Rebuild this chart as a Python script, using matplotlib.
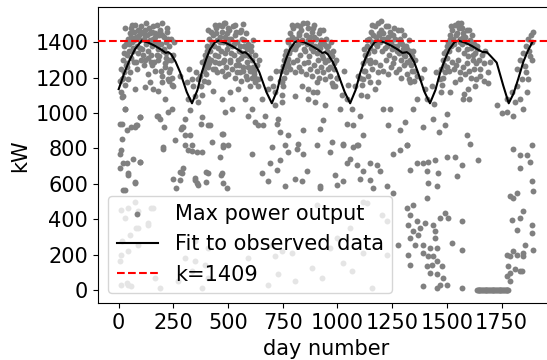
import matplotlib
matplotlib.use('Agg')
import matplotlib.pyplot as plt

# ---------------- fitted curve (day, kW) ----------------
fit_days = [0, 25, 50, 75, 105, 135, 165, 195, 215, 227, 240, 260, 281, 311, 335,
            360, 380, 400, 418, 440, 456, 486, 516, 546, 566, 578, 591, 618, 643, 675,
            700, 725, 745, 765, 783, 805, 821, 851, 881, 911, 931, 943, 956, 978, 1000,
            1033, 1058, 1083, 1105, 1127, 1147, 1170, 1187, 1217, 1247, 1277, 1297, 1317,
            1330, 1350, 1368, 1398, 1423, 1448, 1470, 1492, 1512, 1535, 1553, 1583, 1613,
            1643, 1663, 1683, 1698, 1728, 1758, 1783, 1805, 1827, 1850, 1870, 1890]
fit_kw = [1135, 1225, 1300, 1362, 1409, 1398, 1380, 1358, 1340, 1344, 1332, 1290, 1230, 1119, 1055,
          1130, 1230, 1305, 1361, 1400, 1409, 1398, 1380, 1358, 1340, 1344, 1332, 1290, 1230, 1119,
          1055, 1130, 1230, 1305, 1361, 1400, 1409, 1398, 1380, 1358, 1340, 1344, 1332, 1290, 1230,
          1119, 1055, 1130, 1230, 1305, 1361, 1400, 1409, 1398, 1380, 1358, 1340, 1344,
          1332, 1290, 1230, 1119, 1055, 1130, 1230, 1305, 1361, 1400, 1409, 1398, 1380,
          1358, 1345, 1344, 1325, 1285, 1155, 1055, 1110, 1195, 1290, 1350, 1398]

k_value = 1409

# ---------------- observed daily maxima: summer bands ----------------
c1_days = [5, 10, 14, 18, 22, 26, 30, 34, 38, 42, 46, 50, 54, 58, 62, 66, 70, 74, 78, 82,
           86, 90, 94, 98, 102, 106, 110, 114, 118, 122, 126, 130, 134, 138, 142, 146, 150, 154, 158, 162,
           166, 170, 174, 178, 182, 186, 190, 194, 198, 202, 206, 210, 214, 218, 222, 226, 230, 234, 238, 242,
           246, 250,
           24, 32, 40, 48, 56, 64, 72, 80, 88, 96, 104, 112, 120, 128, 136, 144, 152, 160, 168, 176,
           184, 192, 200, 208, 216, 224, 232, 240,
           12, 20, 36, 52, 68, 84, 100, 116, 132, 148, 164, 180, 196, 212, 228, 244,
           28, 60, 92, 124, 156, 188, 220, 252]
c1_kw = [1180, 1250, 1090, 1300, 1230, 1340, 1160, 1390, 1280, 1420, 1350, 1450, 1310, 1480, 1400, 1370, 1460, 1500, 1430, 1380,
         1470, 1340, 1440, 1410, 1490, 1360, 1450, 1420, 1300, 1470, 1390, 1440, 1350, 1480, 1410, 1330, 1460, 1380, 1420, 1290,
         1450, 1400, 1500, 1360, 1440, 1320, 1470, 1390, 1510, 1350, 1430, 1280, 1400, 1340, 1460, 1300, 1380, 1250, 1420, 1200,
         1330, 1150,
         1380, 1270, 1330, 1390, 1430, 1350, 1410, 1290, 1420, 1370, 1460, 1330, 1440, 1400, 1310, 1450, 1270, 1390, 1430, 1330,
         1390, 1240, 1440, 1360, 1310, 1420, 1180, 1300,
         1120, 1200, 1260, 1230, 1290, 1250, 1300, 1270, 1220, 1290, 1240, 1300, 1210, 1260, 1230, 1160,
         1480, 1500, 1470, 1510, 1490, 1460, 1480, 1400]

c2_days = [372, 378, 383, 388, 393, 398, 403, 408, 413, 418, 423, 428, 433, 438, 443, 448, 453, 458, 463, 468,
           473, 478, 483, 488, 493, 498, 503, 508, 513, 518, 523, 528, 533, 538, 543, 548, 553, 558, 563, 568,
           573, 578, 583, 588, 593, 598, 603, 608, 613, 618, 624, 630, 636, 642,
           395, 405, 415, 425, 435, 445, 455, 465, 475, 485, 495, 505, 515, 525, 535, 545, 555, 565, 575, 585,
           595, 605, 615, 625,
           380, 390, 400, 410, 420, 430, 440, 450, 460, 470, 480, 490, 500, 510, 520, 530, 540, 550, 560, 570,
           580, 590, 600, 610, 620, 635,
           410, 440, 470, 500, 530, 560]
c2_kw = [1210, 1150, 1290, 1240, 1330, 1270, 1380, 1310, 1420, 1350, 1460, 1390, 1440, 1330, 1480, 1410, 1370, 1500, 1430, 1350,
         1460, 1400, 1510, 1340, 1450, 1390, 1470, 1300, 1420, 1380, 1490, 1330, 1440, 1270, 1400, 1350, 1460, 1310, 1420, 1260,
         1380, 1330, 1450, 1290, 1390, 1240, 1350, 1300, 1410, 1220, 1330, 1270, 1190, 1300,
         1300, 1350, 1280, 1400, 1380, 1450, 1320, 1400, 1290, 1430, 1360, 1420, 1340, 1390, 1460, 1300, 1380, 1340, 1410, 1360,
         1320, 1380, 1260, 1200,
         1100, 1180, 1220, 1260, 1300, 1250, 1290, 1230, 1280, 1240, 1300, 1260, 1220, 1290, 1250, 1200, 1230, 1270, 1180, 1240,
         1210, 1260, 1150, 1200, 1240, 1150,
         1470, 1500, 1490, 1480, 1500, 1470]

c3_days = [738, 744, 749, 754, 759, 764, 769, 774, 779, 784, 789, 794, 799, 804, 809, 814, 819, 824, 829, 834,
           839, 844, 849, 854, 859, 864, 869, 874, 879, 884, 889, 894, 899, 904, 909, 914, 919, 924, 929, 934,
           939, 944, 949, 954, 959, 964, 969, 974, 980, 986, 992, 998,
           760, 772, 786, 798, 812, 826, 838, 852, 866, 878, 892, 906, 918, 932, 946, 958, 972, 984,
           745, 755, 765, 775, 785, 795, 805, 815, 825, 835, 845, 855, 865, 875, 885, 895, 905, 915, 925, 935,
           945, 955, 965, 975, 990,
           790, 830, 860, 890, 920]
c3_kw = [1180, 1240, 1150, 1300, 1260, 1350, 1290, 1410, 1340, 1450, 1380, 1430, 1480, 1360, 1420, 1500, 1390, 1450, 1330, 1470,
         1410, 1510, 1360, 1440, 1390, 1480, 1320, 1430, 1400, 1460, 1350, 1500, 1380, 1420, 1300, 1450, 1370, 1410, 1330, 1470,
         1390, 1290, 1420, 1350, 1380, 1260, 1400, 1320, 1350, 1250, 1300, 1200,
         1330, 1400, 1360, 1420, 1380, 1440, 1400, 1350, 1410, 1370, 1430, 1340, 1390, 1310, 1380, 1300, 1340, 1280,
         1100, 1200, 1230, 1270, 1250, 1290, 1230, 1300, 1260, 1240, 1280, 1220, 1290, 1250, 1210, 1270, 1240, 1200, 1260, 1230,
         1190, 1250, 1210, 1170, 1150,
         1500, 1490, 1510, 1480, 1470]

c4_days = [1104, 1110, 1115, 1120, 1125, 1130, 1135, 1140, 1145, 1150, 1155, 1160, 1165, 1170, 1175, 1180, 1185, 1190, 1195, 1200,
           1205, 1210, 1215, 1220, 1225, 1230, 1235, 1240, 1245, 1250, 1255, 1260, 1265, 1270, 1275, 1280, 1285, 1290, 1295, 1300,
           1305, 1310, 1315, 1320, 1325, 1330, 1336, 1342, 1348, 1355, 1362,
           1122, 1134, 1148, 1162, 1176, 1190, 1204, 1218, 1232, 1246, 1260, 1274, 1288, 1302, 1316, 1330, 1344,
           1108, 1118, 1128, 1138, 1150, 1160, 1172, 1184, 1196, 1208, 1220, 1232, 1244, 1256, 1268, 1280, 1292, 1304, 1316, 1328,
           1340, 1352,
           1160, 1200, 1230, 1260, 1290]
c4_kw = [1200, 1160, 1280, 1240, 1330, 1300, 1380, 1340, 1420, 1370, 1460, 1400, 1350, 1490, 1430, 1380, 1510, 1440, 1400, 1470,
         1350, 1450, 1420, 1490, 1380, 1430, 1330, 1460, 1400, 1360, 1440, 1310, 1420, 1380, 1470, 1340, 1400, 1300, 1390, 1360,
         1440, 1320, 1380, 1290, 1410, 1350, 1270, 1320, 1240, 1300, 1210,
         1360, 1410, 1300, 1440, 1390, 1450, 1420, 1370, 1400, 1440, 1380, 1350, 1420, 1330, 1360, 1300, 1350,
         1100, 1190, 1240, 1210, 1280, 1250, 1290, 1230, 1270, 1240, 1300, 1220, 1260, 1280, 1230, 1250, 1200, 1270, 1220, 1190,
         1240, 1180,
         1500, 1520, 1490, 1480, 1470]

c5_days = [1468, 1474, 1479, 1484, 1489, 1494, 1499, 1504, 1509, 1514, 1519, 1524, 1529, 1534, 1539, 1544, 1549, 1554, 1559, 1564,
           1569, 1574, 1579, 1584, 1589, 1594, 1599, 1604, 1609, 1614, 1619, 1624, 1629, 1634, 1640, 1646, 1652, 1660, 1668, 1676,
           1686, 1696,
           1488, 1502, 1516, 1530, 1546, 1560, 1576, 1590, 1606, 1620, 1636,
           1472, 1482, 1492, 1502, 1512, 1522, 1532, 1542, 1552, 1562, 1572, 1582, 1592, 1602, 1612, 1622, 1632, 1650, 1670, 1690,
           1520, 1550, 1570, 1600]
c5_kw = [1190, 1250, 1160, 1300, 1270, 1350, 1310, 1400, 1350, 1440, 1380, 1470, 1420, 1390, 1500, 1440, 1360, 1480, 1420, 1510,
         1390, 1450, 1340, 1430, 1400, 1470, 1320, 1410, 1370, 1440, 1300, 1390, 1340, 1280, 1360, 1300, 1250, 1330, 1280, 1350,
         1230, 1290,
         1340, 1380, 1420, 1400, 1450, 1400, 1430, 1360, 1400, 1330, 1380,
         1120, 1200, 1230, 1260, 1240, 1290, 1250, 1270, 1300, 1230, 1260, 1220, 1280, 1240, 1200, 1250, 1190, 1210, 1180, 1170,
         1490, 1510, 1480, 1470]

c6_days = [1820, 1835, 1848, 1857, 1862, 1870, 1875, 1880, 1885, 1888, 1892, 1845, 1873, 1865, 1850, 1835,
           1820, 1797, 1804, 1774, 1810, 1860, 1890]
c6_kw = [1250, 1300, 1340, 1267, 1380, 1420, 1350, 1324, 1440, 1400, 1460, 1190, 1193, 1118, 1024, 1080,
         1155, 1118, 986, 1006, 1060, 1230, 1300]

# ---------------- scattered lower values, years 1-3 (day, kW) ----------------
scatter_early = [
    (14, 1193), (44, 1193), (75, 1136), (121, 1146), (143, 1174), (159, 1136), (181, 1127), (197, 1174), (227, 1193), (21, 1099),
    (29, 1024), (98, 977), (14, 940), (83, 930), (174, 986), (243, 1024), (288, 921), (303, 968), (212, 1080), (281, 1211),
    (311, 1174), (334, 1193), (349, 1099), (326, 1015), (364, 1062), (380, 977), (410, 1174), (433, 1127), (471, 1080), (486, 1006),
    (517, 1024), (509, 1118), (547, 1136), (578, 1080), (608, 1024), (593, 986), (639, 930), (669, 986), (715, 1043), (730, 968),
    (745, 1062), (806, 1099), (837, 1155), (867, 1136), (905, 1118), (867, 1080), (898, 1062), (684, 1136), (654, 1080), (623, 1174),
    (585, 1193), (486, 1211), (440, 1249), (395, 1267), (364, 1193), (715, 1118), (745, 1174), (752, 1267), (776, 1305), (608, 1249),
    (555, 1230), (340, 1150), (320, 1250), (355, 1230), (690, 1200), (705, 1150), (720, 1240),
    (14, 856), (37, 902), (75, 921), (205, 921), (296, 921), (303, 874), (334, 818), (418, 930), (425, 837), (471, 884),
    (501, 818), (623, 949), (661, 930), (722, 940), (738, 893), (776, 874), (761, 818), (821, 827), (844, 902),
    (485, 1511), (569, 1502), (287, 912), (325, 874), (318, 790), (356, 781), (378, 940), (409, 930), (477, 884), (477, 818),
    (279, 668), (294, 687), (279, 621), (348, 631), (356, 603), (401, 668), (401, 612), (469, 649), (477, 603), (264, 575), (317, 1080),
    (5, 940), (11, 790), (5, 687), (20, 715), (43, 659), (66, 743), (73, 613), (20, 563), (96, 726), (58, 922),
    (80, 930), (96, 978), (181, 985), (189, 967), (204, 810), (28, 1024), (225, 1006),
    (11, 451), (73, 500), (89, 444), (148, 462), (29, 406), (80, 350), (52, 311), (135, 368), (11, 198), (43, 220),
    (5, 164), (11, 30), (37, 41), (57, 24), (189, 13),
    (6, 771), (37, 715), (43, 648), (75, 603), (29, 563), (98, 725), (203, 799), (258, 845), (303, 817), (334, 788),
    (380, 782), (249, 630), (288, 659), (349, 620), (363, 591), (409, 659), (479, 810), (463, 754), (471, 659), (494, 575),
    (608, 771), (700, 810), (692, 715), (654, 659), (683, 614), (722, 676), (738, 732), (775, 782), (814, 799), (843, 771),
    (806, 630), (837, 614), (860, 670), (760, 586), (921, 586), (905, 817),
    (44, 461), (159, 461), (136, 377), (90, 350), (14, 277), (90, 256), (349, 277), (410, 238), (303, 181), (349, 164),
    (395, 144), (334, 108), (410, 69), (273, 52), (380, 13), (166, 69), (44, 31), (593, 181), (700, 256), (715, 193),
    (745, 220), (791, 209), (730, 88), (806, 52), (883, 125), (928, 69), (684, 31),
]

# ---------------- scattered lower values, years 3-6 (day, kW) ----------------
scatter_late = [
    (966, 780), (1027, 827), (1072, 810), (1095, 817), (1058, 743), (1042, 715), (1088, 706), (1118, 670), (1149, 715), (1180, 706),
    (1195, 670), (1103, 630), (1149, 621), (1163, 575), (1225, 586), (1254, 547), (1027, 614), (997, 593), (921, 575), (990, 649),
    (1254, 771), (1286, 790), (1317, 818), (1332, 677), (1362, 715), (1392, 715), (1415, 725), (1447, 734), (1408, 670), (1461, 659),
    (1500, 754), (1538, 754), (1568, 706), (1545, 642), (1415, 603), (1454, 586), (1408, 519), (1643, 734),
    (1317, 462), (1332, 425), (1346, 481), (1323, 369), (1346, 332), (1369, 312), (1332, 294), (1355, 256), (1392, 256), (1378, 350),
    (1362, 389), (1400, 378), (1437, 369), (1447, 332), (1447, 294), (1469, 406), (1492, 434), (1506, 406), (1568, 389), (1423, 238),
    (1454, 238), (1392, 209), (1415, 192), (1437, 192), (1454, 164), (1431, 144), (1477, 136), (1408, 136), (1423, 97), (1454, 88),
    (1483, 69), (1469, 31), (1500, 31), (1392, 24), (1454, 13), (1568, 13), (1323, 200), (1332, 144), (1277, 256), (1522, 266),
    (1568, 228),
    (1804, 799), (1835, 762), (1865, 762), (1888, 818), (1835, 687), (1880, 725), (1820, 547), (1789, 529), (1804, 519), (1888, 614),
    (1892, 557), (1850, 444), (1797, 397), (1835, 406), (1888, 369), (1888, 322), (1820, 340), (1857, 256), (1892, 228), (1789, 192),
    (1820, 200), (1850, 192), (1781, 136), (1812, 116), (1789, 97), (1842, 108), (1774, 80), (1774, 200), (1803, 220), (1849, 209),
    (1835, 108), (1789, 52),
    (1203, 425), (1225, 389), (1118, 500), (1058, 350), (997, 294), (966, 238), (1027, 153), (1065, 108), (1118, 209), (1157, 13),
    (1134, 490), (905, 481), (1225, 200),
    (936, 958), (921, 912), (974, 838), (1027, 818), (1088, 818), (1042, 940), (1073, 930), (1118, 874), (1103, 986), (1065, 1024),
    (1012, 1024), (943, 1043), (905, 1174), (890, 1118), (1210, 1024), (1240, 1024), (1233, 930), (1286, 902), (1309, 949), (1317, 818),
    (1347, 1024), (1393, 921), (1438, 968), (1462, 893), (1492, 930), (1500, 996), (1591, 874), (1606, 827), (1187, 1174), (1149, 1174),
    (1134, 1099), (1172, 1136), (1362, 1080), (1332, 1174), (1400, 1136), (1515, 1118), (1538, 1174), (1576, 1080), (1598, 1136),
    (1560, 1190), (1580, 1110), (1600, 1080), (1630, 1150), (1728, 1043), (1774, 1080), (1750, 1000),
    (980, 1150), (1000, 1200), (1020, 1100), (1045, 1080), (1080, 1150), (1095, 1210), (1050, 1160), (1030, 1240),
    (1380, 1200), (1410, 1080), (1430, 1150), (1450, 1230), (1395, 1250), (1440, 1050),
]

# ---------------- run of zero-output days ----------------
zero_days = [1637, 1641, 1645, 1649, 1653, 1657, 1661, 1665, 1669, 1673, 1677, 1681, 1685, 1689, 1693,
             1697, 1701, 1705, 1709, 1713, 1717, 1721, 1725, 1729, 1733, 1737, 1741, 1745, 1749, 1753,
             1757, 1761, 1765, 1769, 1773, 1777, 1781]
zero_kw = [0] * len(zero_days)

# ---------------- assemble ----------------
obs_days = (c1_days + c2_days + c3_days + c4_days + c5_days + c6_days
            + [d for d, _ in scatter_early] + [d for d, _ in scatter_late] + zero_days)
obs_kw = (c1_kw + c2_kw + c3_kw + c4_kw + c5_kw + c6_kw
          + [v for _, v in scatter_early] + [v for _, v in scatter_late] + zero_kw)

FS = 15
fig = plt.figure(figsize=(5.47, 3.6), dpi=100)
ax = fig.add_axes([0.179, 0.157, 0.833, 0.823])

ax.scatter(obs_days, obs_kw, s=18, color='grey', linewidths=0, label='Max power output', zorder=2)
ax.plot(fit_days, fit_kw, color='black', lw=1.5, label='Fit to observed data', zorder=3)
ax.axhline(k_value, color='red', ls='--', lw=1.5, label='k=%d' % k_value, zorder=3)

ax.set_xlim(-95, 1988)
ax.set_ylim(-76, 1598)
ax.set_xticks([0, 250, 500, 750, 1000, 1250, 1500, 1750])
ax.set_yticks([0, 200, 400, 600, 800, 1000, 1200, 1400])
ax.tick_params(labelsize=FS)
ax.set_xlabel('day number', fontsize=FS)
ax.set_ylabel('kW', fontsize=FS)
ax.legend(loc='lower left', fontsize=FS)

fig.savefig('out.png', dpi=100)
